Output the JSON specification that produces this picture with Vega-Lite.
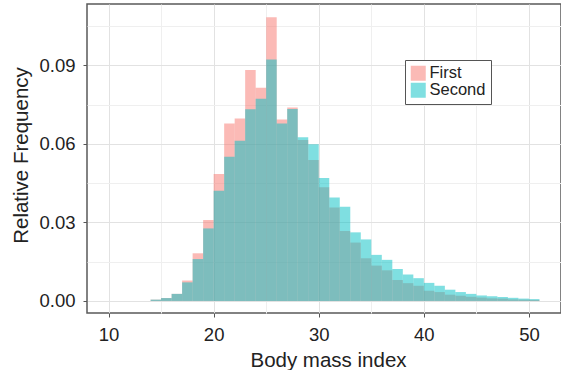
{
  "$schema": "https://vega.github.io/schema/vega-lite/v6.json",
  "width": 474,
  "height": 309,
  "autosize": {"type": "none"},
  "padding": {"left": 87, "top": 4, "right": 0, "bottom": 57},
  "background": "white",
  "config": {
    "font": "Liberation Sans",
    "view": {"stroke": "#5a5a5a", "strokeWidth": 1.5},
    "axis": {"domain": false, "tickColor": "#555555", "tickSize": 4, "labelColor": "#222222", "titleColor": "#222222", "labelFont": "Liberation Sans", "titleFont": "Liberation Sans", "titleFontWeight": "normal"}
  },
  "data": {
    "values": [
      {"bmi": 14, "bmi_end": 15, "group": "First", "freq": 0.0005},
      {"bmi": 15, "bmi_end": 16, "group": "First", "freq": 0.0011},
      {"bmi": 16, "bmi_end": 17, "group": "First", "freq": 0.0027},
      {"bmi": 17, "bmi_end": 18, "group": "First", "freq": 0.0078},
      {"bmi": 18, "bmi_end": 19, "group": "First", "freq": 0.0182},
      {"bmi": 19, "bmi_end": 20, "group": "First", "freq": 0.0309},
      {"bmi": 20, "bmi_end": 21, "group": "First", "freq": 0.0485},
      {"bmi": 21, "bmi_end": 22, "group": "First", "freq": 0.0678},
      {"bmi": 22, "bmi_end": 23, "group": "First", "freq": 0.0697},
      {"bmi": 23, "bmi_end": 24, "group": "First", "freq": 0.0882},
      {"bmi": 24, "bmi_end": 25, "group": "First", "freq": 0.0814},
      {"bmi": 25, "bmi_end": 26, "group": "First", "freq": 0.1083},
      {"bmi": 26, "bmi_end": 27, "group": "First", "freq": 0.0693},
      {"bmi": 27, "bmi_end": 28, "group": "First", "freq": 0.0739},
      {"bmi": 28, "bmi_end": 29, "group": "First", "freq": 0.0615},
      {"bmi": 29, "bmi_end": 30, "group": "First", "freq": 0.0538},
      {"bmi": 30, "bmi_end": 31, "group": "First", "freq": 0.0434},
      {"bmi": 31, "bmi_end": 32, "group": "First", "freq": 0.0357},
      {"bmi": 32, "bmi_end": 33, "group": "First", "freq": 0.0267},
      {"bmi": 33, "bmi_end": 34, "group": "First", "freq": 0.0223},
      {"bmi": 34, "bmi_end": 35, "group": "First", "freq": 0.0163},
      {"bmi": 35, "bmi_end": 36, "group": "First", "freq": 0.0135},
      {"bmi": 36, "bmi_end": 37, "group": "First", "freq": 0.0117},
      {"bmi": 37, "bmi_end": 38, "group": "First", "freq": 0.0080},
      {"bmi": 38, "bmi_end": 39, "group": "First", "freq": 0.0068},
      {"bmi": 39, "bmi_end": 40, "group": "First", "freq": 0.0058},
      {"bmi": 40, "bmi_end": 41, "group": "First", "freq": 0.0039},
      {"bmi": 41, "bmi_end": 42, "group": "First", "freq": 0.0034},
      {"bmi": 42, "bmi_end": 43, "group": "First", "freq": 0.0024},
      {"bmi": 43, "bmi_end": 44, "group": "First", "freq": 0.0020},
      {"bmi": 44, "bmi_end": 45, "group": "First", "freq": 0.0016},
      {"bmi": 45, "bmi_end": 46, "group": "First", "freq": 0.0013},
      {"bmi": 46, "bmi_end": 47, "group": "First", "freq": 0.0010},
      {"bmi": 47, "bmi_end": 48, "group": "First", "freq": 0.0009},
      {"bmi": 48, "bmi_end": 49, "group": "First", "freq": 0.0006},
      {"bmi": 49, "bmi_end": 50, "group": "First", "freq": 0.0005},
      {"bmi": 50, "bmi_end": 51, "group": "First", "freq": 0.0004},
      {"bmi": 14, "bmi_end": 15, "group": "Second", "freq": 0.0005},
      {"bmi": 15, "bmi_end": 16, "group": "Second", "freq": 0.0011},
      {"bmi": 16, "bmi_end": 17, "group": "Second", "freq": 0.0027},
      {"bmi": 17, "bmi_end": 18, "group": "Second", "freq": 0.0071},
      {"bmi": 18, "bmi_end": 19, "group": "Second", "freq": 0.0160},
      {"bmi": 19, "bmi_end": 20, "group": "Second", "freq": 0.0277},
      {"bmi": 20, "bmi_end": 21, "group": "Second", "freq": 0.0421},
      {"bmi": 21, "bmi_end": 22, "group": "Second", "freq": 0.0551},
      {"bmi": 22, "bmi_end": 23, "group": "Second", "freq": 0.0612},
      {"bmi": 23, "bmi_end": 24, "group": "Second", "freq": 0.0732},
      {"bmi": 24, "bmi_end": 25, "group": "Second", "freq": 0.0772},
      {"bmi": 25, "bmi_end": 26, "group": "Second", "freq": 0.0922},
      {"bmi": 26, "bmi_end": 27, "group": "Second", "freq": 0.0678},
      {"bmi": 27, "bmi_end": 28, "group": "Second", "freq": 0.0733},
      {"bmi": 28, "bmi_end": 29, "group": "Second", "freq": 0.0625},
      {"bmi": 29, "bmi_end": 30, "group": "Second", "freq": 0.0598},
      {"bmi": 30, "bmi_end": 31, "group": "Second", "freq": 0.0470},
      {"bmi": 31, "bmi_end": 32, "group": "Second", "freq": 0.0395},
      {"bmi": 32, "bmi_end": 33, "group": "Second", "freq": 0.0360},
      {"bmi": 33, "bmi_end": 34, "group": "Second", "freq": 0.0262},
      {"bmi": 34, "bmi_end": 35, "group": "Second", "freq": 0.0235},
      {"bmi": 35, "bmi_end": 36, "group": "Second", "freq": 0.0176},
      {"bmi": 36, "bmi_end": 37, "group": "Second", "freq": 0.0157},
      {"bmi": 37, "bmi_end": 38, "group": "Second", "freq": 0.0122},
      {"bmi": 38, "bmi_end": 39, "group": "Second", "freq": 0.0101},
      {"bmi": 39, "bmi_end": 40, "group": "Second", "freq": 0.0087},
      {"bmi": 40, "bmi_end": 41, "group": "Second", "freq": 0.0069},
      {"bmi": 41, "bmi_end": 42, "group": "Second", "freq": 0.0058},
      {"bmi": 42, "bmi_end": 43, "group": "Second", "freq": 0.0043},
      {"bmi": 43, "bmi_end": 44, "group": "Second", "freq": 0.0034},
      {"bmi": 44, "bmi_end": 45, "group": "Second", "freq": 0.0027},
      {"bmi": 45, "bmi_end": 46, "group": "Second", "freq": 0.0021},
      {"bmi": 46, "bmi_end": 47, "group": "Second", "freq": 0.0018},
      {"bmi": 47, "bmi_end": 48, "group": "Second", "freq": 0.0015},
      {"bmi": 48, "bmi_end": 49, "group": "Second", "freq": 0.0012},
      {"bmi": 49, "bmi_end": 50, "group": "Second", "freq": 0.0009},
      {"bmi": 50, "bmi_end": 51, "group": "Second", "freq": 0.0007}
    ]
  },
  "mark": {"type": "bar", "opacity": 0.5, "strokeWidth": 0},
  "encoding": {
    "x": {
      "field": "bmi",
      "type": "quantitative",
      "scale": {"domain": [7.95, 53.05], "nice": false, "zero": false},
      "axis": {
        "values": [10, 15, 20, 25, 30, 35, 40, 45, 50],
        "labelExpr": "datum.value % 10 === 0 ? datum.label : ''",
        "labelFontSize": 18.5,
        "labelBaseline": "alphabetic",
        "labelPadding": 23,
        "tickOpacity": {"condition": {"test": "datum.value % 10 === 0", "value": 1}, "value": 0},
        "gridColor": {"condition": {"test": "datum.value % 10 === 0", "value": "#e2e2e2"}, "value": "#efefef"},
        "title": "Body mass index",
        "titleFontSize": 20.5,
        "titleX": 241,
        "titleY": 53,
        "titleBaseline": "alphabetic",
        "titleAnchor": "middle",
        "titleAlign": "center"
      }
    },
    "x2": {"field": "bmi_end"},
    "y": {
      "field": "freq",
      "type": "quantitative",
      "stack": null,
      "scale": {"domain": [-0.0046, 0.1134], "nice": false, "zero": false},
      "axis": {
        "values": [0, 0.015, 0.03, 0.045, 0.06, 0.075, 0.09, 0.105],
        "labelExpr": "round(datum.value * 1000) % 30 === 0 ? format(datum.value, '.2f') : ''",
        "labelFontSize": 18.5,
        "labelPadding": 8,
        "tickOpacity": {"condition": {"test": "round(datum.value * 1000) % 30 === 0", "value": 1}, "value": 0},
        "gridColor": {"condition": {"test": "round(datum.value * 1000) % 30 === 0", "value": "#e2e2e2"}, "value": "#efefef"},
        "title": "Relative Frequency",
        "titleFontSize": 20.5,
        "titleAngle": 270,
        "titleX": -60,
        "titleY": 151,
        "titleBaseline": "alphabetic",
        "titleAlign": "center"
      }
    },
    "y2": {"datum": 0},
    "color": {
      "field": "group",
      "type": "nominal",
      "scale": {"domain": ["First", "Second"], "range": ["#F8766D", "#00BFC4"]},
      "legend": {
        "title": null,
        "orient": "none",
        "legendX": 318,
        "legendY": 56,
        "direction": "vertical",
        "strokeColor": "#555555",
        "fillColor": "white",
        "padding": 5,
        "symbolType": "square",
        "symbolSize": 225,
        "symbolStrokeWidth": 0,
        "symbolOpacity": 0.5,
        "labelFontSize": 16.5,
        "labelColor": "#222222",
        "labelOffset": 3,
        "rowPadding": 0
      }
    },
    "order": {"field": "group", "sort": "ascending"}
  }
}
